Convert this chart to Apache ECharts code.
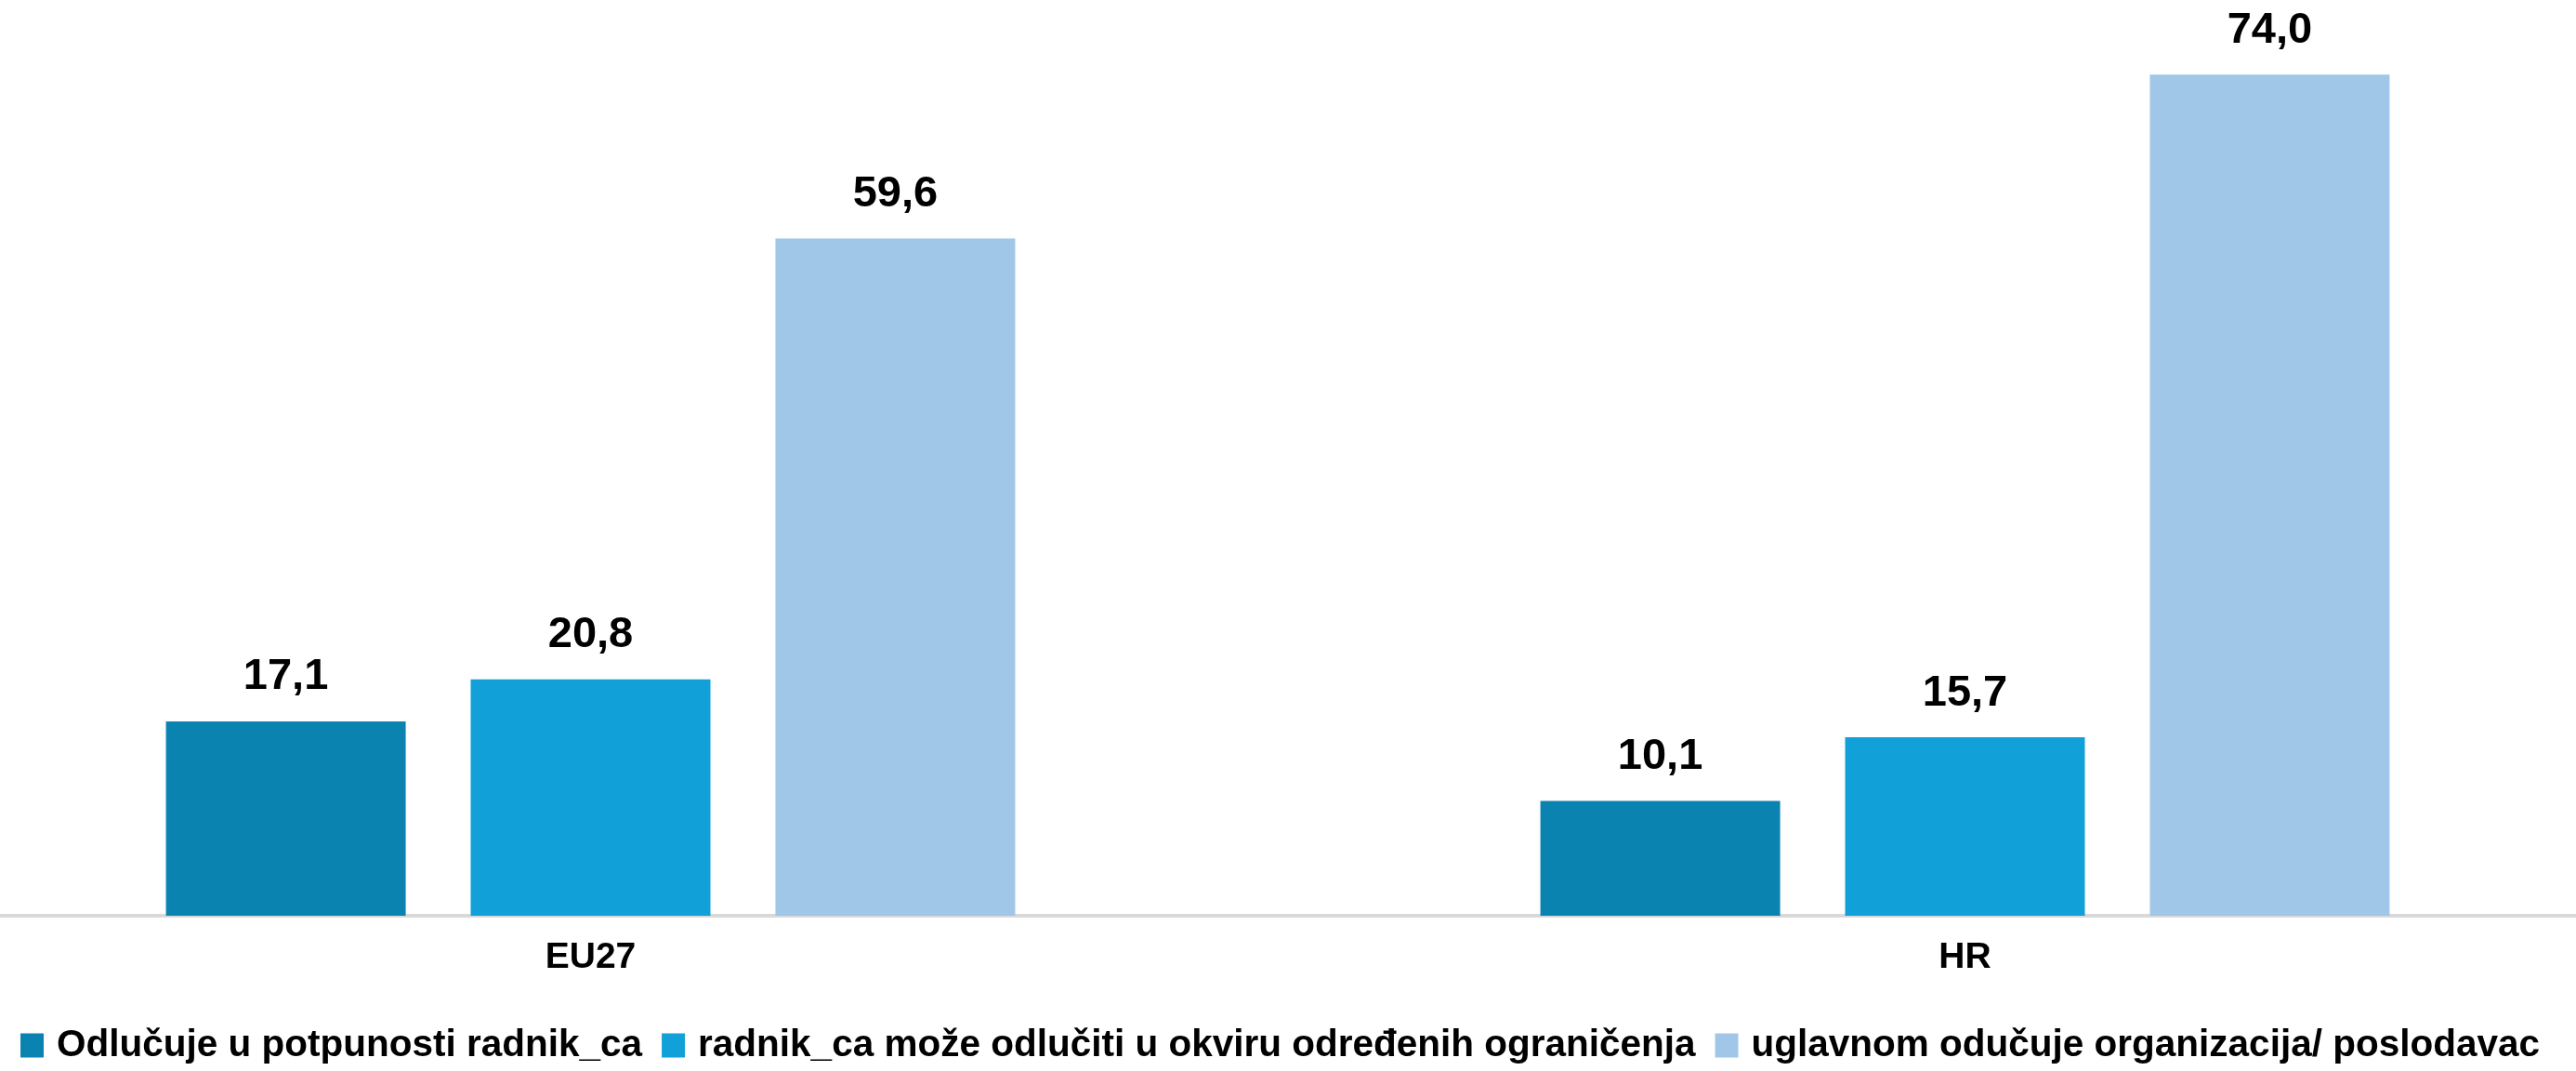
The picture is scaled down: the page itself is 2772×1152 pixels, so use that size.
<!DOCTYPE html>
<html>
<head>
<meta charset="utf-8">
<script src="https://cdn.jsdelivr.net/npm/echarts@6.0.0/dist/echarts.min.js"></script>
<style>
  html, body { margin: 0; padding: 0; background: #fff; overflow: hidden; width: 2772px; height: 1152px; }
  /* plot area in the original runs a little past both edges of the picture */
  #chart { position: absolute; left: -104px; top: 0; width: 2958px; height: 1152px; }
</style>
</head>
<body>
<div id="chart"></div>
<script>
// kategorije i vrijednosti (%)
const categories = ["EU27", "HR"];
const seriesNames = [
  "Odlučuje u potpunosti radnik_ca",
  "radnik_ca može odlučiti u okviru određenih ograničenja",
  "uglavnom odučuje organizacija/ poslodavac"
];
const radnikValues = [17.1, 10.1];
const ogranicenjaValues = [20.8, 15.7];
const poslodavacValues = [59.6, 74.0];
const colors = ["#0b83b0", "#11a0d7", "#a1c7e8"];

const chart = echarts.init(document.getElementById("chart"));

const labelStyle = {
  show: true,
  position: "top",
  distance: 24,
  color: "#000",
  fontFamily: "Liberation Sans, Arial, sans-serif",
  fontWeight: "bold",
  fontSize: 47,
  formatter: (p) => p.value.toFixed(1).replace(".", ",")
};

const valueSets = [radnikValues, ogranicenjaValues, poslodavacValues];

const option = {
  animation: false,
  color: colors,
  grid: {
    left: 0,
    right: 0,
    top: 7,
    bottom: 167,
    containLabel: false
  },
  legend: {
    data: seriesNames,
    left: 126,
    top: 1104,
    padding: 0,
    icon: "rect",
    itemWidth: 25,
    itemHeight: 26,
    itemGap: 21,
    textStyle: {
      color: "#000",
      fontFamily: "Liberation Sans, Arial, sans-serif",
      fontWeight: "bold",
      fontSize: 40.5,
      padding: [0, 0, 0, 9]
    }
  },
  xAxis: {
    type: "category",
    data: categories,
    axisTick: { show: false },
    axisLine: { lineStyle: { color: "#d9d9d9", width: 4 } },
    axisLabel: {
      margin: 26,
      color: "#000",
      fontFamily: "Liberation Sans, Arial, sans-serif",
      fontWeight: "bold",
      fontSize: 39
    }
  },
  yAxis: {
    type: "value",
    min: 0,
    max: 80,
    show: false,
    splitLine: { show: false }
  },
  series: seriesNames.map((name, i) => ({
    name: name,
    type: "bar",
    data: valueSets[i],
    barWidth: 258,
    barGap: "27.1%",
    itemStyle: { color: colors[i] },
    label: labelStyle
  }))
};

chart.setOption(option);
</script>
</body>
</html>
